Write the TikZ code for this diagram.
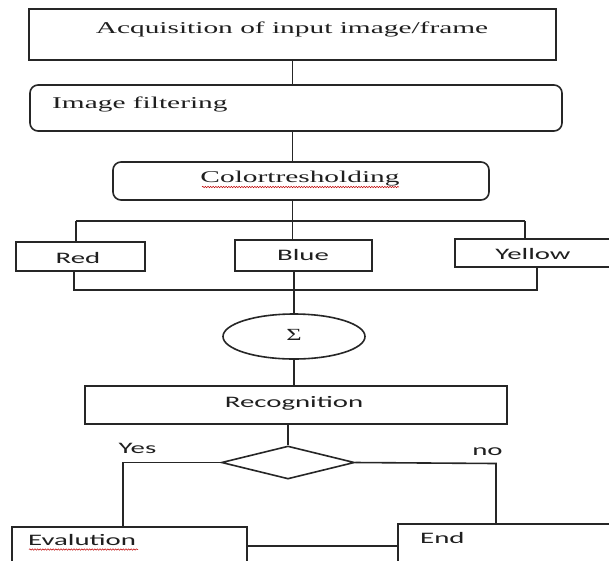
\documentclass[tikz,border=0pt]{standalone}
\usepackage{fontspec}
\usepackage{graphicx}
\setmainfont{Liberation Serif}
\newfontfamily\calib{Carlito}
\usetikzlibrary{shapes.geometric,decorations.pathmorphing}
\newcommand\strx[1]{\scalebox{1.8}[1]{#1}}
\newcommand\strs[1]{\scalebox{1.78}[1]{#1}}
\colorlet{linec}{black!85}
\colorlet{textc}{black!88}
\tikzset{
  box/.style={draw=linec, line width=1.6pt, rectangle, inner sep=0pt},
  rbox/.style={box, rounded corners=8pt},
  ovalbox/.style={draw=linec, line width=1.6pt, ellipse, inner sep=0pt},
  decbox/.style={draw=linec, line width=1.6pt, diamond, inner sep=0pt},
  wire/.style={draw=linec, line width=1.6pt},
  seriftext/.style={font=\fontsize{16.5}{20}\selectfont, text=textc, anchor=base, inner sep=0pt},
  sanstext/.style={font=\calib\fontsize{16}{19}\selectfont, text=textc, anchor=base, inner sep=0pt},
  squig/.style={draw=red!75!black, line width=0.5pt, decorate, decoration={snake, segment length=2.6pt, amplitude=0.7pt}}
}
\begin{document}
\begin{tikzpicture}[x=1pt,y=-1pt]
\useasboundingbox (0,0) rectangle (609,560);
\fill[white] (0,0) rectangle (609,560);

% boxes
\node[box, minimum width=527pt, minimum height=51pt] (acq) at (292.5,34.5) {};
\node[rbox, minimum width=532pt, minimum height=46pt] (filter) at (296,108) {};
\node[rbox, minimum width=376pt, minimum height=38pt] (color) at (301,181) {};
\node[box, minimum width=129pt, minimum height=29pt] (red) at (80.5,256.5) {};
\node[box, minimum width=137pt, minimum height=31pt] (blue) at (303.5,255.5) {};
\node[box, minimum width=165pt, minimum height=28pt] (yellow) at (537.5,253) {};
\node[ovalbox, minimum width=142pt, minimum height=45pt] (sigma) at (294,336.5) {};
\node[box, minimum width=422pt, minimum height=38pt] (recog) at (296,405) {};
\node[decbox, minimum width=133pt, minimum height=33pt] (dec) at (288,462.5) {};
\node[box, minimum width=235pt, minimum height=38pt] (eval) at (129.5,546) {};
\node[box, minimum width=220pt, minimum height=44pt] (endb) at (508,546) {};

% texts
\node[seriftext] (tacq) at (292,33) {\strs{Acquisition of input image/frame}};
\node[seriftext, anchor=base west] (tfilter) at (52,108) {\strs{Image filtering}};
\node[seriftext] (tcolor) at (300,182) {\strs{Colortresholding}};
\node[sanstext] (tred) at (78,263) {\strx{Red}};
\node[sanstext] (tblue) at (303,260) {\strx{Blue}};
\node[sanstext] (tyellow) at (533,259) {\strx{Yellow}};
\node[seriftext, font=\fontsize{17}{20}\selectfont] (tsigma) at (294,340) {\scalebox{1.55}[1]{Σ}};
\node[sanstext] (trecog) at (294,407) {\strx{Recognition}};
\node[sanstext] (tyes) at (137.5,453) {\strx{Yes}};
\node[sanstext] (tno) at (487.5,455) {\strx{no}};
\node[sanstext, anchor=base west] (teval) at (28,545) {\strx{Evalution}};
\node[sanstext, anchor=base west] (tend) at (420,543) {\strx{End}};

% spell-check squiggles
\draw[squig] (202,187) -- (399,187);
\draw[squig] (29,549.5) -- (138,549.5);

% bus coordinates
\coordinate (tl) at (76,221);
\coordinate (tr) at (525,221);
\coordinate (bl) at (74,290);
\coordinate (br) at (537,290);
\coordinate (yc) at (123,462.5);
\coordinate (nc) at (496,463.5);

% connectors
\draw[wire] (acq.south) -- (acq.south |- filter.north);
\draw[wire] (acq.south |- filter.south) -- (acq.south |- color.north);
\draw[wire] (acq.south |- color.south) -- (acq.south |- blue.north);
\draw[wire] (tl) -- (tr);
\draw[wire] (tl) -- (tl |- red.north);
\draw[wire] (tr) -- (tr |- yellow.north);
\draw[wire] (bl |- red.south) -- (bl) -- (br) -- (br |- yellow.south);
\draw[wire] (sigma.north |- blue.south) -- (sigma.north);
\draw[wire] (sigma.south) -- (sigma.south |- recog.north);
\draw[wire] (dec.north |- recog.south) -- (dec.north);
\draw[wire] (dec.west) -- (yc) -- (yc |- eval.north);
\draw[wire] (dec.east) -- (nc) -- (nc |- endb.north);
\draw[wire] (eval.east) -- (endb.west);
\end{tikzpicture}
\end{document}
